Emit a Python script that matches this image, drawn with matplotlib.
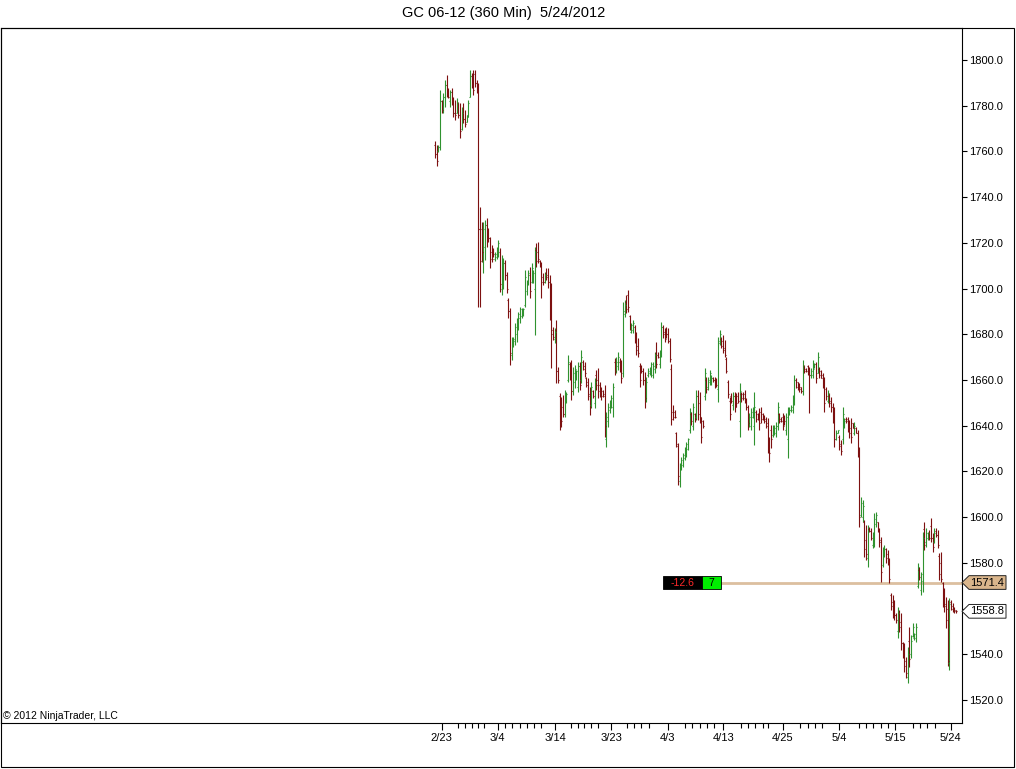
import numpy as np
import matplotlib
matplotlib.use('Agg')
import matplotlib.pyplot as plt
import matplotlib.transforms as mtransforms
from matplotlib.patches import Rectangle, Polygon
from matplotlib.ticker import FormatStrFormatter

plt.rcParams['font.family'] = ['Liberation Sans', 'DejaVu Sans']

# GC 06-12, 360 min bars
opens = [
    1763, 1759, 1760, 1762, 1782, 1778, 1784, 1789, 1786, 1782,
    1786, 1782, 1777, 1777, 1781, 1776, 1770, 1777, 1774, 1773,
    1776, 1784, 1793, 1790, 1794, 1790, 1787, 1726, 1726, 1712,
    1718, 1728, 1725, 1722, 1716, 1717, 1713, 1714, 1716, 1716,
    1700, 1703, 1711, 1706, 1695, 1690, 1671, 1675, 1677, 1680,
    1684, 1687, 1688, 1689, 1693, 1699, 1703, 1706, 1703, 1703,
    1700, 1717, 1716, 1712, 1710, 1705, 1703, 1707, 1706, 1703,
    1690, 1682, 1678, 1682, 1664, 1653, 1644, 1648, 1645, 1651,
    1660, 1667, 1662, 1655, 1659, 1661, 1657, 1666, 1660, 1668,
    1666, 1661, 1659, 1654, 1649, 1655, 1650, 1662, 1660, 1658,
    1656, 1655, 1654, 1634, 1642, 1647, 1649, 1648, 1668, 1664,
    1666, 1668, 1665, 1663, 1689, 1694, 1697, 1688, 1681, 1682,
    1683, 1679, 1675, 1666, 1666, 1664, 1660, 1652, 1662, 1663,
    1663, 1662, 1665, 1672, 1671, 1667, 1672, 1683, 1681, 1682,
    1680, 1677, 1665, 1646, 1646, 1637, 1631, 1616, 1621, 1623,
    1626, 1628, 1630, 1638, 1645, 1640, 1645, 1644, 1653, 1650,
    1642, 1642, 1653, 1660, 1657, 1659, 1659, 1661, 1660, 1660,
    1656, 1677, 1678, 1677, 1674, 1669, 1659, 1651, 1653, 1649,
    1653, 1652, 1653, 1642, 1654, 1654, 1654, 1651, 1648, 1641,
    1640, 1644, 1640, 1646, 1645, 1645, 1646, 1645, 1644, 1643,
    1641, 1634, 1638, 1636, 1637, 1637, 1640, 1645, 1643, 1644,
    1644, 1638, 1634, 1645, 1647, 1647, 1651, 1660, 1659, 1658,
    1657, 1655, 1666, 1665, 1666, 1664, 1662, 1662, 1665, 1667,
    1663, 1665, 1664, 1662, 1659, 1656, 1651, 1653, 1651, 1648,
    1644, 1634, 1637, 1635, 1632, 1634, 1640, 1643, 1643, 1640,
    1639, 1641, 1637, 1639, 1637, 1630, 1601, 1600, 1598, 1590,
    1582, 1595, 1594, 1588, 1590, 1597, 1598, 1594, 1590, 1579,
    1583, 1586, 1584, 1581, 1566, 1563, 1561, 1557, 1550, 1558,
    1554, 1545, 1542, 1537, 1530, 1546, 1540, 1548, 1547, 1547,
    1570, 1577, 1568, 1572, 1595, 1589, 1591, 1593, 1596, 1591,
    1589, 1594, 1592, 1583, 1580, 1571, 1566, 1562, 1560, 1536,
    1563, 1561, 1560, 1559.2,
]
highs = [
    1764.7, 1762.8, 1762.8, 1786.9, 1782.5, 1785.4, 1791.2, 1793.4, 1787.6, 1786.9,
    1787.6, 1784.0, 1782.5, 1783.2, 1781.8, 1781.0, 1779.6, 1781.0, 1778.1, 1775.9,
    1782.5, 1795.6, 1794.2, 1795.6, 1795.6, 1791.2, 1789.8, 1735.8, 1729.3, 1729.3,
    1730.0, 1730.7, 1726.4, 1722.7, 1719.1, 1717.6, 1716.0, 1718.0, 1721.3, 1717.6,
    1714.7, 1713.2, 1712.5, 1707.4, 1695.7, 1691.4, 1678.9, 1678.9, 1684.8, 1687.0,
    1689.9, 1692.1, 1691.4, 1691.4, 1708.2, 1703.8, 1708.2, 1709.6, 1711.1, 1708.2,
    1718.3, 1719.8, 1720.5, 1712.5, 1711.8, 1706.7, 1707.4, 1708.9, 1708.9, 1705.9,
    1702.3, 1683.3, 1682.6, 1686.3, 1665.8, 1654.2, 1652.7, 1653.4, 1655.6, 1654.9,
    1670.9, 1668.0, 1668.7, 1665.8, 1666.6, 1664.4, 1668.0, 1668.0, 1673.1, 1668.7,
    1668.0, 1661.5, 1660.7, 1657.1, 1659.3, 1655.6, 1660.7, 1664.4, 1665.1, 1659.3,
    1657.1, 1655.6, 1657.8, 1646.1, 1649.8, 1651.2, 1653.4, 1658.6, 1669.5, 1670.2,
    1672.4, 1669.5, 1668.7, 1694.3, 1695.0, 1697.2, 1699.4, 1688.4, 1684.8, 1686.3,
    1684.1, 1681.1, 1678.2, 1667.3, 1666.6, 1665.1, 1663.6, 1661.5, 1665.1, 1665.8,
    1668.0, 1668.0, 1672.4, 1676.8, 1672.4, 1673.1, 1685.5, 1684.1, 1682.6, 1683.3,
    1682.6, 1678.2, 1667.0, 1649.1, 1646.9, 1637.4, 1632.3, 1623.5, 1626.4, 1627.9,
    1630.8, 1633.0, 1634.5, 1647.6, 1646.1, 1649.8, 1645.4, 1655.6, 1655.6, 1654.9,
    1643.9, 1642.5, 1665.1, 1661.5, 1661.5, 1664.4, 1662.2, 1661.5, 1661.5, 1660.7,
    1678.9, 1681.9, 1678.9, 1679.7, 1677.5, 1670.2, 1660.0, 1652.7, 1654.2, 1654.9,
    1654.9, 1654.2, 1654.9, 1658.6, 1654.9, 1654.9, 1655.6, 1652.0, 1649.1, 1645.4,
    1647.6, 1648.3, 1654.9, 1646.9, 1645.4, 1647.6, 1648.3, 1645.4, 1644.7, 1643.9,
    1643.2, 1635.2, 1640.3, 1640.3, 1640.3, 1641.8, 1650.5, 1645.4, 1643.9, 1645.4,
    1644.7, 1645.4, 1648.3, 1648.3, 1649.1, 1653.4, 1662.2, 1660.7, 1659.3, 1658.6,
    1657.1, 1668.7, 1666.6, 1665.1, 1666.6, 1665.8, 1665.1, 1668.7, 1667.3, 1668.0,
    1672.4, 1665.8, 1664.4, 1662.9, 1661.5, 1657.1, 1655.6, 1654.2, 1652.7, 1649.8,
    1648.3, 1638.1, 1638.1, 1635.9, 1633.8, 1648.0, 1643.2, 1643.9, 1643.9, 1642.5,
    1643.2, 1641.1, 1641.8, 1639.6, 1638.1, 1630.8, 1608.9, 1607.5, 1598.8, 1596.6,
    1596.6, 1595.8, 1595.1, 1593.6, 1601.6, 1602.3, 1598.0, 1595.1, 1591.5, 1587.1,
    1587.8, 1586.4, 1585.6, 1582.0, 1566.7, 1565.9, 1563.8, 1557.9, 1560.8, 1559.4,
    1557.9, 1545.5, 1544.8, 1538.9, 1543.3, 1552.1, 1548.4, 1553.6, 1549.2, 1553.6,
    1579.8, 1578.3, 1576.0, 1593.4, 1597.9, 1595.1, 1593.6, 1594.4, 1599.5, 1592.9,
    1595.1, 1595.1, 1594.4, 1584.2, 1584.9, 1571.8, 1568.9, 1565.2, 1563.8, 1564.5,
    1563.8, 1562.3, 1560.8, 1559.5,
]
lows = [
    1757.0, 1753.6, 1759.9, 1760.6, 1776.7, 1776.7, 1779.6, 1784.0, 1783.2, 1779.6,
    1780.3, 1775.2, 1773.8, 1776.7, 1774.5, 1765.7, 1769.4, 1772.3, 1770.8, 1773.0,
    1775.2, 1784.0, 1787.6, 1784.7, 1788.3, 1785.4, 1692.1, 1692.1, 1711.8, 1706.7,
    1712.5, 1718.3, 1720.5, 1708.9, 1711.8, 1714.0, 1712.0, 1713.0, 1714.0, 1698.6,
    1697.2, 1700.0, 1703.8, 1697.9, 1687.0, 1666.6, 1668.7, 1674.6, 1675.3, 1676.8,
    1681.9, 1684.8, 1687.0, 1688.0, 1692.1, 1697.2, 1701.6, 1695.7, 1702.3, 1702.3,
    1679.7, 1709.6, 1711.1, 1709.6, 1695.7, 1701.6, 1702.3, 1703.8, 1700.1, 1686.3,
    1665.1, 1677.5, 1676.1, 1658.6, 1658.6, 1638.1, 1639.6, 1643.9, 1643.9, 1649.8,
    1659.3, 1660.0, 1651.2, 1653.4, 1656.4, 1660.0, 1654.9, 1655.6, 1658.6, 1664.4,
    1661.5, 1657.1, 1651.2, 1644.7, 1647.6, 1652.0, 1647.6, 1655.6, 1652.0, 1652.7,
    1651.2, 1652.7, 1635.2, 1630.8, 1639.6, 1645.4, 1647.6, 1643.9, 1662.2, 1662.9,
    1664.4, 1663.6, 1658.6, 1661.5, 1687.7, 1689.2, 1689.9, 1681.9, 1680.4, 1680.4,
    1676.1, 1670.9, 1670.2, 1657.1, 1662.9, 1657.8, 1647.6, 1650.5, 1661.5, 1662.2,
    1661.5, 1660.7, 1662.9, 1665.1, 1669.5, 1665.1, 1670.2, 1678.2, 1676.8, 1678.2,
    1676.1, 1668.0, 1640.3, 1642.5, 1643.2, 1630.8, 1614.1, 1613.3, 1620.6, 1622.1,
    1625.0, 1626.4, 1629.4, 1636.7, 1640.3, 1638.1, 1641.8, 1642.5, 1642.5, 1641.1,
    1632.3, 1638.9, 1651.2, 1654.2, 1655.6, 1657.8, 1657.8, 1659.3, 1656.4, 1657.1,
    1650.5, 1675.3, 1673.9, 1671.7, 1670.2, 1662.9, 1652.0, 1642.5, 1649.8, 1646.9,
    1646.1, 1648.3, 1649.8, 1635.2, 1650.5, 1651.2, 1649.8, 1646.9, 1638.1, 1639.6,
    1638.1, 1643.2, 1631.6, 1641.8, 1642.5, 1638.1, 1641.1, 1642.5, 1641.1, 1638.9,
    1627.9, 1624.3, 1630.1, 1635.2, 1635.9, 1635.2, 1638.1, 1641.1, 1641.8, 1638.1,
    1640.3, 1635.9, 1625.7, 1644.7, 1646.1, 1645.4, 1649.1, 1656.4, 1655.6, 1654.9,
    1654.2, 1653.4, 1662.9, 1663.6, 1662.2, 1645.4, 1660.7, 1660.7, 1665.1, 1658.6,
    1662.9, 1660.7, 1660.7, 1656.4, 1646.1, 1651.2, 1649.8, 1648.3, 1646.1, 1641.1,
    1630.8, 1633.8, 1636.7, 1629.4, 1627.2, 1632.0, 1638.9, 1641.1, 1637.4, 1634.5,
    1632.3, 1638.9, 1635.9, 1636.7, 1626.4, 1595.8, 1600.1, 1598.0, 1582.7, 1581.3,
    1578.3, 1593.6, 1590.0, 1586.4, 1587.1, 1595.8, 1593.6, 1587.1, 1571.8, 1578.3,
    1582.7, 1579.8, 1579.1, 1571.1, 1559.4, 1555.7, 1555.0, 1553.6, 1547.0, 1549.9,
    1541.9, 1538.3, 1532.4, 1529.5, 1527.3, 1534.6, 1538.3, 1547.7, 1546.3, 1545.5,
    1568.9, 1572.5, 1566.0, 1567.2, 1585.6, 1587.1, 1590.0, 1590.0, 1589.3, 1584.9,
    1588.5, 1591.5, 1586.4, 1572.5, 1571.8, 1560.8, 1558.7, 1551.4, 1535.0, 1533.1,
    1559.4, 1558.7, 1557.9, 1557.9,
]
closes = [
    1759, 1756, 1762, 1782, 1778, 1784, 1789, 1786, 1784, 1786,
    1782, 1777, 1776, 1781, 1776, 1769, 1777, 1774, 1772, 1775,
    1781, 1793, 1789, 1787, 1790, 1787, 1726, 1712, 1716, 1726,
    1728, 1721, 1722, 1713, 1713, 1715, 1715, 1717, 1720, 1702,
    1710, 1711, 1706, 1700, 1690, 1672, 1677, 1678, 1683, 1685,
    1689, 1691, 1690, 1691, 1705, 1702, 1707, 1699, 1709, 1707,
    1716, 1712, 1713, 1710, 1703, 1703, 1706, 1705, 1703, 1690,
    1680, 1679, 1681, 1664, 1660, 1642, 1642, 1645, 1652, 1654,
    1668, 1662, 1655, 1663, 1665, 1664, 1666, 1658, 1670, 1665,
    1663, 1658, 1653, 1648, 1657, 1653, 1659, 1658, 1655, 1655,
    1653, 1653, 1640, 1644, 1648, 1650, 1652, 1657, 1664, 1668,
    1670, 1665, 1661, 1690, 1693, 1691, 1692, 1684, 1684, 1685,
    1678, 1673, 1672, 1660, 1664, 1660, 1652, 1659, 1664, 1665,
    1667, 1666, 1671, 1667, 1670, 1672, 1683, 1680, 1678, 1680,
    1677, 1669, 1643, 1644, 1644, 1632, 1618, 1621, 1625, 1627,
    1630, 1632, 1634, 1646, 1642, 1648, 1643, 1653, 1645, 1644,
    1635, 1640, 1663, 1656, 1660, 1663, 1661, 1660, 1658, 1658,
    1676, 1680, 1675, 1673, 1671, 1664, 1654, 1645, 1651, 1653,
    1648, 1650, 1651, 1655, 1652, 1652, 1651, 1648, 1641, 1644,
    1646, 1647, 1648, 1643, 1643, 1641, 1643, 1643, 1642, 1640,
    1632, 1628, 1634, 1639, 1639, 1640, 1648, 1642, 1642, 1640,
    1642, 1644, 1646, 1647, 1648, 1652, 1660, 1657, 1657, 1656,
    1655, 1666, 1664, 1664, 1663, 1662, 1664, 1667, 1667, 1661,
    1670, 1662, 1661, 1658, 1650, 1653, 1654, 1650, 1648, 1643,
    1634, 1637, 1638, 1631, 1629, 1645, 1642, 1642, 1639, 1637,
    1635, 1639, 1640, 1637, 1630, 1600, 1606, 1605, 1586, 1584,
    1594, 1594, 1591, 1592, 1599, 1601, 1595, 1589, 1576, 1585,
    1586, 1582, 1581, 1573, 1561, 1558, 1557, 1555, 1558, 1552,
    1545, 1540, 1535, 1532, 1540, 1538, 1546, 1552, 1549, 1552,
    1578, 1574, 1575, 1591, 1588, 1593, 1593, 1591, 1591, 1587,
    1593, 1592, 1588, 1575, 1573, 1563, 1561, 1555, 1537, 1562,
    1560, 1559, 1559, 1558.8,
]

# session date labels on the time axis (bar number where they sit)
date_labels = ['2/23', '3/4', '3/14', '3/23', '4/3', '4/13', '4/25', '5/4', '5/15', '5/24']
date_bars = [4.0, 37.7, 72.1, 105.8, 139.8, 173.3, 209.1, 242.8, 276.4, 309.9]
day_bars = [14.0, 18.0, 22.1, 26.0, 29.6, 42.1, 46.5, 50.9, 55.3, 59.7, 63.7,
            81.7, 85.8, 89.7, 93.8, 97.8, 115.4, 119.6, 124.0, 128.4,
            150.0, 154.6, 159.0, 163.4, 167.9, 183.7, 188.1, 192.5, 196.9, 200.3,
            219.6, 224.0, 228.4, 232.8, 254.6, 259.0, 263.4, 267.9, 272.3,
            287.1, 291.5, 295.9, 300.3]

position_price = 1571.4
last_price = 1558.8
pnl_points = -12.6
position_qty = 7

UP = '#2f922f'
DOWN = '#7d1010'

o = np.array(opens, dtype=float)
h = np.array(highs, dtype=float)
l = np.array(lows, dtype=float)
c = np.array(closes, dtype=float)
x = np.arange(len(c))
cols = np.where(c >= o, UP, DOWN)

W, H = 1016, 769
fig = plt.figure(figsize=(W / 100, H / 100), dpi=100)
fig.patch.set_facecolor('white')
ax = fig.add_axes([1 / W, 1 - 723 / H, 961 / W, 695 / H])

ax.vlines(x, l, h, colors=cols, linewidth=0.8)
ax.hlines(o, x - 0.6, x, colors=cols, linewidth=0.8)
ax.hlines(c, x, x + 0.6, colors=cols, linewidth=0.8)

ax.set_xlim(-260.8, 316.7)
ax.set_ylim(1509.94, 1814.0)

ax.yaxis.tick_right()
ax.set_yticks(np.arange(1520, 1801, 20))
ax.yaxis.set_major_formatter(FormatStrFormatter('%.1f'))
ax.tick_params(axis='y', direction='out', length=3.6, width=0.8, pad=1.5, labelsize=8)

ax.set_xticks(date_bars)
ax.set_xticklabels(date_labels)
ax.set_xticks(day_bars, minor=True)
ax.tick_params(axis='x', which='major', direction='out', length=5, width=0.8, pad=2, labelsize=8)
ax.tick_params(axis='x', which='minor', direction='out', length=3.6, width=0.8)
for s in ax.spines.values():
    s.set_linewidth(0.8)

# outer frame
fig.add_artist(Rectangle((1 / W, 1 - 767 / H), 1013 / W, (767 - 28) / H,
                         transform=fig.transFigure, fill=False, lw=0.8, ec='black'))

fig.text(503.5 / W, 1 - 13 / H, 'GC 06-12 (360 Min)  5/24/2012', ha='center', va='center', fontsize=10.5)
fig.text(3 / W, 1 - 716 / H, '\u00a9 2012 NinjaTrader, LLC', ha='left', va='center', fontsize=7.5)

# position line and chart trader box
ax.axhline(position_price, xmin=(720.7 - 1) / 961, xmax=1, color='#dcbf9f', lw=2, zorder=1)
blend = mtransforms.blended_transform_factory(fig.transFigure, ax.transData)
bh = 2.85
ax.add_patch(Rectangle((663.3 / W, position_price - bh), 38.4 / W, 2 * bh, transform=blend,
                       fc='black', ec='black', lw=0.6, clip_on=False, zorder=6))
ax.add_patch(Rectangle((701.7 / W, position_price - bh), 19 / W, 2 * bh, transform=blend,
                       fc='#00ee00', ec='black', lw=0.6, clip_on=False, zorder=6))
ax.text(682.5 / W, position_price, f'{pnl_points:.1f}', transform=blend, color='#ff2a2a',
        ha='center', va='center', fontsize=7.5, zorder=7)
ax.text(711.2 / W, position_price, str(position_qty), transform=blend, color='black',
        ha='center', va='center', fontsize=7.5, zorder=7)

# price markers on the axis
th = 3.0


def price_tag(price, face):
    pts = [(962 / W, price), (969 / W, price + th), (1006 / W, price + th),
           (1006 / W, price - th), (969 / W, price - th)]
    ax.add_patch(Polygon(pts, closed=True, transform=blend, fc=face, ec='#222222',
                         lw=0.7, clip_on=False, zorder=6))
    ax.text(987.5 / W, price, f'{price:.1f}', transform=blend, ha='center', va='center',
            fontsize=8, zorder=7)


price_tag(position_price, '#dab68c')
price_tag(last_price, 'white')

fig.savefig('out.png', dpi=100, facecolor='white')
